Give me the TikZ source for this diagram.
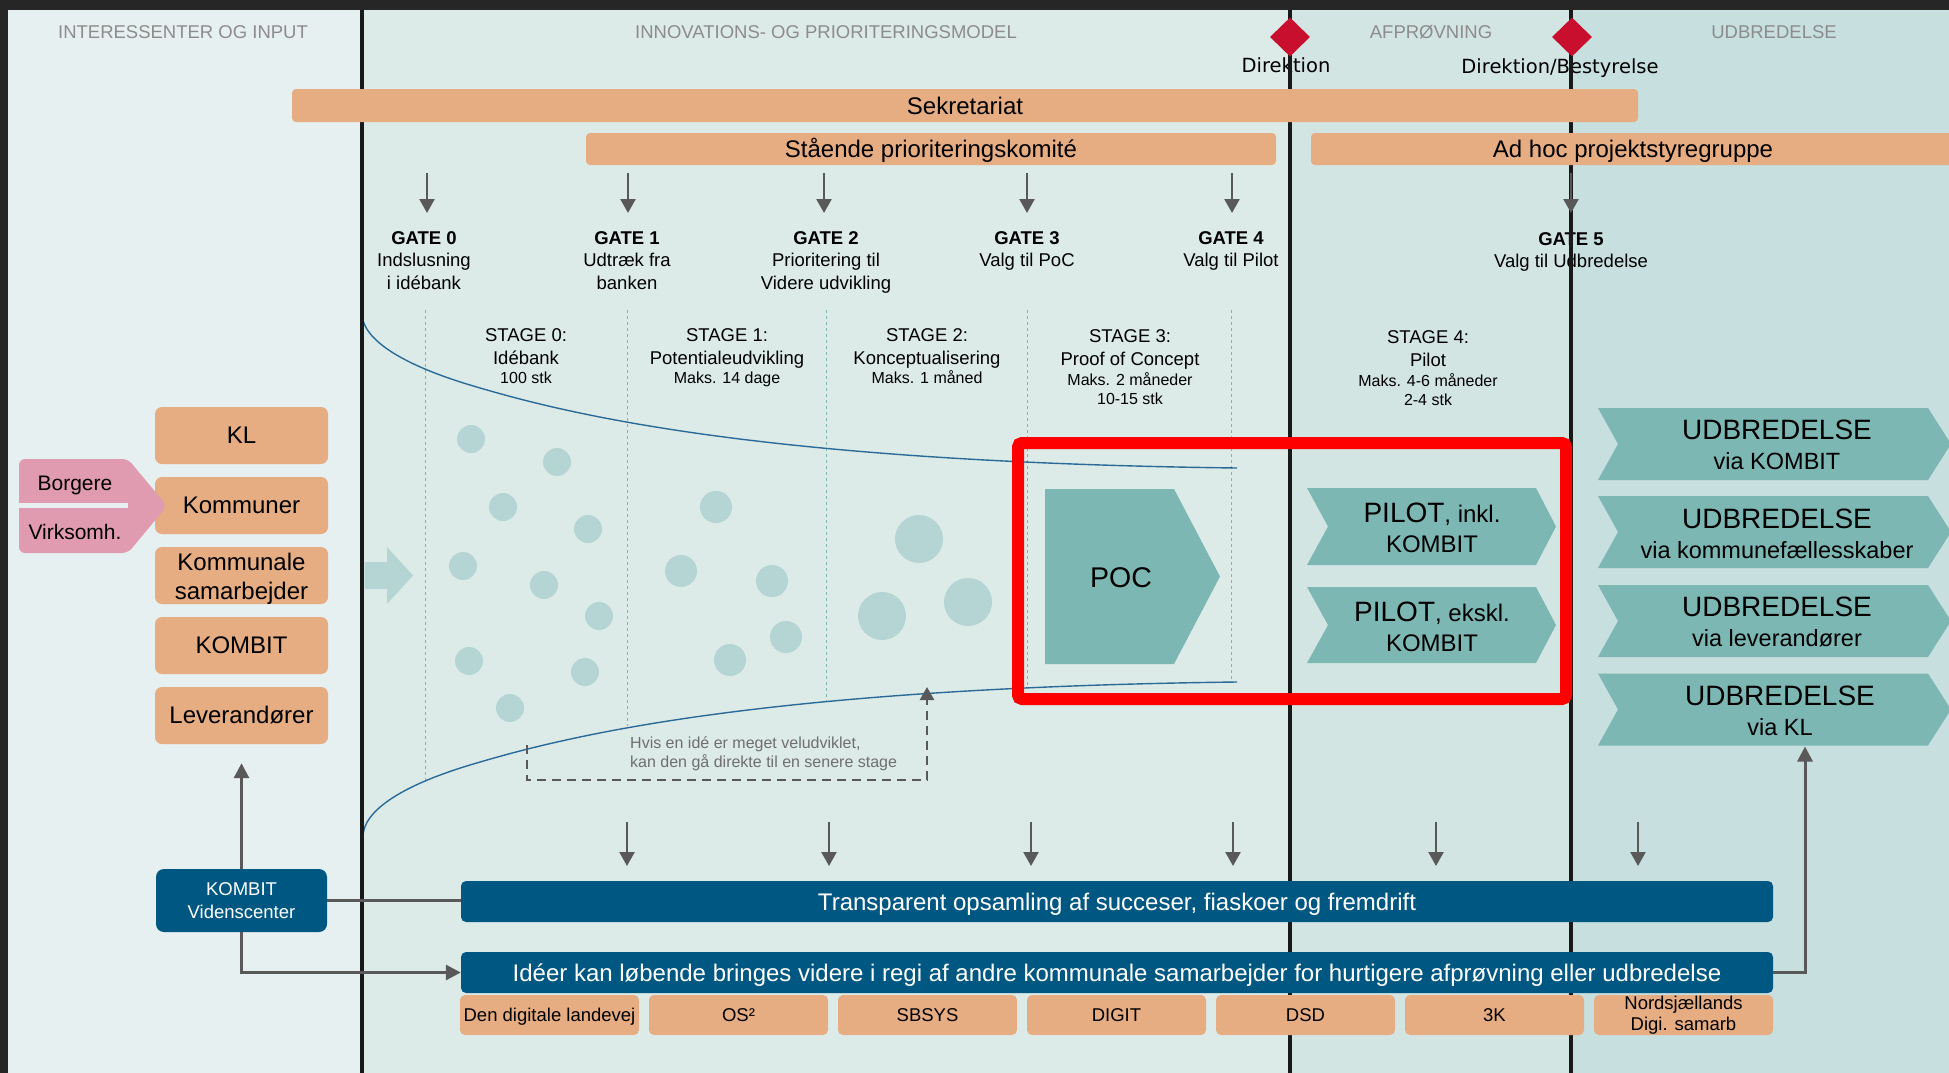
\documentclass[tikz,border=0pt]{standalone}
\usepackage{fontspec}
\setmainfont{Liberation Sans}
\newfontfamily\dirfont{DejaVu Sans}
\usetikzlibrary{arrows.meta,shapes.geometric}
\definecolor{frame}{HTML}{262626}
\definecolor{bgA}{HTML}{E7F0F0}
\definecolor{bgB}{HTML}{DDEBE8}
\definecolor{bgC}{HTML}{D3E5E3}
\definecolor{bgD}{HTML}{C7DFDF}
\definecolor{salm}{HTML}{E6AC82}
\definecolor{pk}{HTML}{E09BB0}
\definecolor{tealc}{HTML}{7DB7B4}
\definecolor{dotc}{HTML}{B4D5D4}
\definecolor{navyc}{HTML}{005882}
\definecolor{redd}{HTML}{C8102E}
\definecolor{agray}{HTML}{595959}
\definecolor{hgray}{HTML}{8C8C8C}
\definecolor{tgray}{HTML}{6E6E6E}
\definecolor{curvec}{HTML}{2A6A99}
\definecolor{stl}{HTML}{7DB5B5}
\newcommand\FS[2]{\fontsize{#1}{#2}\selectfont}
\tikzset{
 hdr/.style={font=\FS{18.5}{23}, text=hgray, anchor=base, inner sep=0},
 lbl/.style={font=\FS{18.5}{23}, anchor=base, inner sep=0},
 lblb/.style={font=\bfseries\FS{18.5}{23}, anchor=base, inner sep=0},
 lbls/.style={font=\FS{16}{20}, anchor=base, inner sep=0},
 bar/.style={fill=salm, rounded corners=4pt, inner sep=0, font=\FS{24}{29}, text height=17.2pt, text depth=0pt},
 sbox/.style={fill=salm, rounded corners=7pt, minimum width=173pt, minimum height=57pt, inner sep=0, font=\FS{24}{29.3}, align=center},
 nbar/.style={fill=navyc, rounded corners=5pt, minimum width=1312pt, minimum height=41pt, inner sep=0, text=white, font=\FS{24}{29}, text height=17.2pt, text depth=0pt},
 tbox/.style={fill=salm, rounded corners=5pt, minimum width=179pt, minimum height=40pt, inner sep=0, font=\FS{18.5}{21.3}, text height=13.3pt, text depth=0pt},
 tboxm/.style={fill=salm, rounded corners=5pt, minimum width=179pt, minimum height=40pt, inner sep=0, font=\FS{18.5}{21.3}, align=center},
 garrow/.style={draw=agray, line width=2.5pt, -{Triangle[length=14pt,width=15pt]}},
 conn/.style={draw=agray, line width=3pt},
 conna/.style={conn, -{Triangle[length=15pt,width=15pt]}},
 stageline/.style={draw=stl, line width=1pt, dash pattern=on 3pt off 3pt},
 vline/.style={draw=black!90, line width=4.5pt},
 funnel/.style={draw=curvec, line width=1.4pt},
 udt/.style={align=center, inner sep=0, font=\FS{28}{30.5}},
 pilt/.style={align=center, inner sep=0, font=\FS{24}{30.6}},
}
\begin{document}
\begin{tikzpicture}[x=1pt,y=-1pt]
\useasboundingbox (0,0) rectangle (1949,1073);
% backgrounds
\fill[frame] (0,0) rectangle (1949,1073);
\fill[bgA] (8,10) rectangle (362,1073);
\fill[bgB] (362,10) rectangle (1290,1073);
\fill[bgC] (1290,10) rectangle (1571,1073);
\fill[bgD] (1571,10) rectangle (1949,1073);
% headers
\node[hdr] (h1) at (183,38.3) {INTERESSENTER OG INPUT};
\node[hdr] (h2) at (826,38.3) {INNOVATIONS- OG PRIORITERINGSMODEL};
\node[hdr] (h3) at (1431,38.3) {AFPRØVNING};
\node[hdr] (h4) at (1774,38.3) {UDBREDELSE};
\node[anchor=base, inner sep=0, font=\dirfont\FS{19.5}{24}] (dir1) at (1286,72.3) {Direktion};
\node[anchor=base, inner sep=0, font=\dirfont\FS{19.5}{24}] (dir2) at (1560,74) {Direktion/Bestyrelse};
% gate labels
\node[lblb] (g0t) at (424,244.3) {GATE 0};
\node[lbl] (g0a) at (424,266.7) {Indslusning};
\node[lbl] (g0b) at (424,289.3) {i idébank};
\node[lblb] (g1t) at (627,244.3) {GATE 1};
\node[lbl] (g1a) at (627,266.7) {Udtræk fra};
\node[lbl] (g1b) at (627,289.3) {banken};
\node[lblb] (g2t) at (826,244.3) {GATE 2};
\node[lbl] (g2a) at (826,266.7) {Prioritering til};
\node[lbl] (g2b) at (826,289.3) {Videre udvikling};
\node[lblb] (g3t) at (1027,244.3) {GATE 3};
\node[lbl] (g3a) at (1027,266.7) {Valg til PoC};
\node[lblb] (g4t) at (1231,244.3) {GATE 4};
\node[lbl] (g4a) at (1231,266.7) {Valg til Pilot};
\node[lblb] (g5t) at (1571,245.7) {GATE 5};
\node[lbl] (g5a) at (1571,267.3) {Valg til Udbredelse};
% stage labels
\node[lbl] (s0t) at (526,341.5) {STAGE 0:};
\node[lbl] (s0a) at (526,364.5) {Idébank};
\node[lbls] (s0b) at (526,383.5) {100 stk};
\node[lbl] (s1t) at (727,341.5) {STAGE 1:};
\node[lbl] (s1a) at (727,364.5) {Potentialeudvikling};
\node[lbls] (s1b) at (727,383.5) {Maks. 14 dage};
\node[lbl] (s2t) at (927,341.5) {STAGE 2:};
\node[lbl] (s2a) at (927,364.5) {Konceptualisering};
\node[lbls] (s2b) at (927,383.5) {Maks. 1 måned};
\node[lbl] (s3t) at (1130,342) {STAGE 3:};
\node[lbl] (s3a) at (1130,365) {Proof of Concept};
\node[lbls] (s3b) at (1130,385) {Maks. 2 måneder};
\node[lbls] (s3c) at (1130,404) {10-15 stk};
\node[lbl] (s4t) at (1428,343) {STAGE 4:};
\node[lbl] (s4a) at (1428,366) {Pilot};
\node[lbls] (s4b) at (1428,386) {Maks. 4-6 måneder};
\node[lbls] (s4c) at (1428,405) {2-4 stk};
% stage dotted lines
\foreach \n/\x/\yb in {0/425/780,1/627/726,2/826/701,3/1027/687,4/1231/682}{
  \coordinate (st\n) at (\x,310); \coordinate (sb\n) at (\x,\yb);
  \draw[stageline] (st\n) -- (sb\n);}
% funnel
\draw[funnel] (362,313) .. controls (362,345) and (420,370) .. (470,385)
  .. controls (560,412) and (750,462) .. (1237,468);
\draw[funnel] (363,837) .. controls (363,805) and (420,780) .. (470,765)
  .. controls (560,738) and (750,688) .. (1237,682);
% idea circles
\foreach \cx/\cy in {471/439,557/462,503/507,588/529,463/566,544/585,599/616,469/661,585/672,510/708}
  \fill[dotc] (\cx,\cy) circle[radius=14];
\foreach \cx/\cy in {716/507,681/571,772/581,786/637,730/660}
  \fill[dotc] (\cx,\cy) circle[radius=16];
\foreach \cx/\cy in {919/539,882/616,968/602}
  \fill[dotc] (\cx,\cy) circle[radius=24];
% black vertical lines
\draw[vline] (362,10) -- (362,1073);
\draw[vline] (1290,10) -- (1290,1073);
\draw[vline] (1571,10) -- (1571,1073);
% diamonds
\node[diamond, fill=redd, minimum width=40pt, minimum height=39pt, inner sep=0] (dm1) at (1290,37) {};
\node[diamond, fill=redd, minimum width=40pt, minimum height=39pt, inner sep=0] (dm2) at (1572,37) {};
% bars
\node[bar, minimum width=1346pt, minimum height=33pt] (sek) at (965,105.5) {Sekretariat};
\node[bar, minimum width=690pt, minimum height=32pt] (spk) at (931,149) {Stående prioriteringskomité};
\node[bar, minimum width=644pt, minimum height=32pt] (ahp) at (1633,149) {Ad hoc projektstyregruppe};
% gate arrows
\foreach \n/\x in {0/427,1/628,2/824,3/1027,4/1232,5/1571}{
  \coordinate (gs\n) at (\x,173); \coordinate (ge\n) at (\x,213);
  \draw[garrow] (gs\n) -- (ge\n);}
% left stakeholder boxes
\node[sbox] (kl) at (241.5,435.5) {KL};
\node[sbox] (kom) at (241.5,505.5) {Kommuner};
\node[sbox] (ks) at (241.5,575.5) {};
\node[align=center, inner sep=0, font=\FS{24}{29.3}] (kst) at (241.5,578.5) {Kommunale\\samarbejder};
\node[sbox] (kb) at (241.5,645.5) {KOMBIT};
\node[sbox] (lev) at (241.5,715.5) {Leverandører};
% pink arrow
\fill[pk, rounded corners=6pt] (19,459) -- (128,459) -- (167,506) -- (128,553) -- (19,553) -- cycle;
\draw[bgA, line width=4.5pt] (17,505.5) -- (128,505.5);
\node[anchor=base, inner sep=0, font=\FS{21}{25}] (bor) at (75,490.7) {Borgere};
\node[anchor=base, inner sep=0, font=\FS{21}{25}] (vir) at (75,539.3) {Virksomh.};
% big light arrow
\fill[dotc] (364.5,562) -- (387,562) -- (387,547) -- (413,575.5) -- (387,604) -- (387,589) -- (364.5,589) -- cycle;
% POC
\fill[tealc] (1045,489) -- (1174,489) -- (1220,576.5) -- (1174,664) -- (1045,664) -- cycle;
\node[inner sep=0, font=\FS{28.5}{34}] (poc) at (1121,578) {POC};
% pilots
\fill[tealc] (1307,488) -- (1536,488) -- (1556,526.5) -- (1536,565) -- (1307,565) -- (1328,526.5) -- cycle;
\fill[tealc] (1307,587) -- (1536,587) -- (1556,625) -- (1536,663) -- (1307,663) -- (1328,625) -- cycle;
\node[pilt] (p1) at (1432,528) {{\FS{28}{30.6}PILOT}, inkl.\\KOMBIT};
\node[pilt] (p2) at (1432,627) {{\FS{28}{30.6}PILOT}, ekskl.\\KOMBIT};
% red highlight
\draw[red, line width=12pt, rounded corners=4pt] (1018,443) rectangle (1566,699);
% udbredelse chevrons
\foreach \t in {408,496,585,673.5}
  \fill[tealc] (1598,\t) -- (1928,\t) -- (1951,\t+36) -- (1928,\t+72) -- (1598,\t+72) -- (1618,\t+36) -- cycle;
\node[udt] (u1) at (1777,445) {UDBREDELSE\\{\FS{23.5}{30}via KOMBIT}};
\node[udt] (u2) at (1777,534) {UDBREDELSE\\{\FS{23.5}{30}via kommunefællesskaber}};
\node[udt] (u3) at (1777,622) {UDBREDELSE\\{\FS{23.5}{30}via leverandører}};
\node[udt] (u4) at (1780,711) {UDBREDELSE\\{\FS{23.5}{30}via KL}};
\coordinate (u4b) at (1805,746.5);
% dashed shortcut
\coordinate (dA) at (527,745);
\coordinate (dB) at (927,687);
\draw[agray, line width=2.5pt, dash pattern=on 9pt off 6pt, -{Triangle[length=13pt,width=14pt]}] (dA) -- ++(0,35) -| (dB);
\node[anchor=base west, inner sep=0, font=\FS{16}{20}, text=tgray] (hv1) at (630,748) {Hvis en idé er meget veludviklet,};
\node[anchor=base west, inner sep=0, font=\FS{16}{20}, text=tgray] (hv2) at (630,767) {kan den gå direkte til en senere stage};
% bottom arrows
\foreach \n/\x in {1/627,2/829,3/1031,4/1233,5/1436,6/1638}{
  \coordinate (bs\n) at (\x,822); \coordinate (be\n) at (\x,866);
  \draw[garrow] (bs\n) -- (be\n);}
% navy bars
\node[nbar] (tb) at (1117,901.5) {Transparent opsamling af succeser, fiaskoer og fremdrift};
\node[nbar] (ib) at (1117,972.5) {Idéer kan løbende bringes videre i regi af andre kommunale samarbejder for hurtigere afprøvning eller udbredelse};
% small boxes
\node[tbox] (t1) at (549.5,1015) {Den digitale landevej};
\node[tbox] (t2) at (738.5,1015) {OS²};
\node[tbox] (t3) at (927.5,1015) {SBSYS};
\node[tbox] (t4) at (1116.5,1015) {DIGIT};
\node[tbox] (t5) at (1305.5,1015) {DSD};
\node[tbox] (t6) at (1494.5,1015) {3K};
\node[tboxm] (t7) at (1683.5,1015) {Nordsjællands\\Digi. samarb};
% KOMBIT Videnscenter
\node[fill=navyc, rounded corners=8pt, minimum width=171pt, minimum height=63pt, inner sep=0, text=white, align=center, font=\FS{18.5}{22.7}] (kv) at (241.5,900.5) {KOMBIT\\Videnscenter};
% connectors
\draw[conna, shorten >=19pt] (kv.north) -- (lev.south);
\draw[conn] (kv.east) -- (kv.east -| tb.west);
\draw[conna] (kv.south) |- (ib.west);
\draw[conna] (ib.east) -| (u4b);
\end{tikzpicture}
\end{document}
